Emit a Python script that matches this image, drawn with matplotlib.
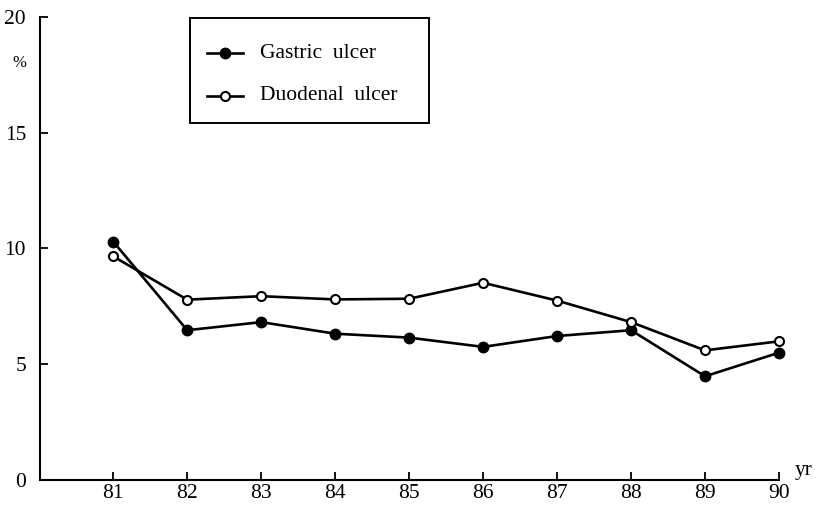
import matplotlib
matplotlib.use("Agg")
import matplotlib.pyplot as plt
from matplotlib.lines import Line2D
from matplotlib.patches import Rectangle

years = [81, 82, 83, 84, 85, 86, 87, 88, 89, 90]
gastric = [10.3, 6.47, 6.82, 6.32, 6.15, 5.75, 6.22, 6.47, 4.48, 5.5]
duodenal = [9.66, 7.79, 7.94, 7.8, 7.83, 8.52, 7.75, 6.82, 5.6, 5.99]
yticks = [0, 5, 10, 15, 20]
labels = ['Gastric  ulcer', 'Duodenal  ulcer']

plt.rcParams['font.family'] = ['Liberation Serif', 'DejaVu Serif']

fig = plt.figure(figsize=(8.18, 5.08), dpi=100)
ax = fig.add_axes([40/818, 1-480/508, (779-40)/818, (480-17)/508])

g_style = dict(color='black', lw=1.9, marker='o', markersize=7.5,
               markerfacecolor='black', markeredgecolor='black')
d_style = dict(color='black', lw=1.9, marker='o', markersize=6.5,
               markerfacecolor='white', markeredgecolor='black', markeredgewidth=1.5)

ax.plot(years, gastric, clip_on=False, **g_style)
ax.plot(years, duodenal, clip_on=False, **d_style)

ax.set_xlim(80.01, 90)
ax.set_ylim(0, 20)
ax.set_xticks(years)
ax.set_xticklabels([str(y) for y in years])
ax.set_yticks(yticks)
ax.set_yticklabels([str(t) for t in yticks])
for s in ['top', 'right']:
    ax.spines[s].set_visible(False)
for s in ['left', 'bottom']:
    ax.spines[s].set_linewidth(1.5)
ax.tick_params(direction='in', length=6, width=1.3, labelsize=15.5)
ax.tick_params(axis='x', pad=3)
ax.tick_params(axis='y', pad=10)

fig.text(19/818, 1-63/508, '%', fontsize=12, ha='center', va='center')
fig.text(795/818, 1-471/508, 'yr', fontsize=15.5, ha='left', va='center')

# legend box drawn manually
fig.patches.append(Rectangle((190/818, 1-123/508), (429-190)/818, (123-18)/508,
                             transform=fig.transFigure, fill=False,
                             edgecolor='black', linewidth=1.4))
for ypix, style, lab in [(53, g_style, labels[0]), (96, d_style, labels[1])]:
    yf = 1 - ypix/508
    fig.lines.append(Line2D([207/818, 243/818], [yf, yf], transform=fig.transFigure,
                            color='black', lw=1.9))
    st = dict(style)
    st.pop('lw')
    st.pop('color')
    fig.lines.append(Line2D([225/818], [yf], transform=fig.transFigure,
                            linestyle='none', **st))
    fig.text(260/818, yf, lab, fontsize=15.5, ha='left', va='center')

fig.savefig('out.png', dpi=100, facecolor='white')
